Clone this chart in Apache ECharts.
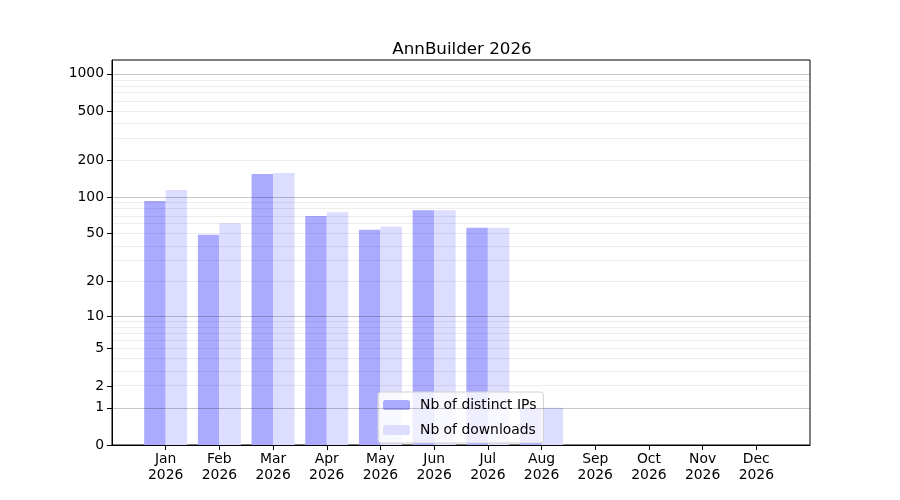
<!DOCTYPE html>
<html>
<head>
<meta charset="utf-8">
<script src="https://cdn.jsdelivr.net/npm/echarts@6/dist/echarts.min.js"></script>
<style>
  html, body { margin: 0; padding: 0; background: #fff; }
  #chart { width: 900px; height: 500px; }
</style>
</head>
<body>
<div id="chart"></div>
<script>
// chart data
const months = ['Jan', 'Feb', 'Mar', 'Apr', 'May', 'Jun', 'Jul', 'Aug', 'Sep', 'Oct', 'Nov', 'Dec'];
const year = '2026';
const distinctIPs = [93, 49, 154, 70, 54, 78, 56, 1, 0, 0, 0, 0];
const downloads = [114, 61, 157, 75, 57, 78, 56, 1, 0, 0, 0, 0];
const yTicks = [0, 1, 2, 5, 10, 20, 50, 100, 200, 500, 1000];
const majorGrid = [1, 10, 100, 1000];
const minorGrid = [2, 3, 4, 5, 6, 7, 8, 9, 20, 30, 40, 50, 60, 70, 80, 90, 200, 300, 400, 500, 600, 700, 800, 900];

// y axis is log10(1 + value)
const tr = v => Math.log10(1 + v);
const font = 'DejaVu Sans';

const chart = echarts.init(document.getElementById('chart'), null, { renderer: 'canvas' });

const tickPos = yTicks.map(tr);
const labelFor = {};
yTicks.forEach(v => { labelFor[tr(v).toFixed(6)] = String(v); });
const monthPos = months.map((m, i) => i);

chart.setOption({
  animation: false,
  title: {
    text: 'AnnBuilder ' + year,
    left: 457,
    top: 36,
    textAlign: 'center',
    textStyle: { fontFamily: font, fontSize: 16.7, fontWeight: 'normal', color: '#000' }
  },
  legend: {
    orient: 'vertical',
    left: 378,
    top: 392,
    padding: [6, 7, 6, 5],
    itemWidth: 27,
    itemHeight: 10,
    itemGap: 11,
    backgroundColor: 'rgba(255,255,255,0.8)',
    borderColor: '#d0d0d0',
    borderWidth: 1,
    borderRadius: 3,
    textStyle: { fontFamily: font, fontSize: 13.9, color: '#000', padding: [0, 0, 0, 5] },
    data: ['Nb of distinct IPs', 'Nb of downloads']
  },
  grid: {
    left: 112, right: 90, top: 60, bottom: 55,
    show: true, borderColor: '#000', borderWidth: 1, backgroundColor: 'transparent'
  },
  xAxis: {
    type: 'value',
    min: -1,
    max: 12,
    axisLine: { show: true, onZero: false, lineStyle: { color: '#000' } },
    axisTick: {
      show: true, length: 5, inside: false,
      customValues: monthPos,
      lineStyle: { color: '#000', width: 1 }
    },
    axisLabel: {
      customValues: monthPos,
      formatter: v => months[Math.round(v)] + '\n' + year,
      fontFamily: font, fontSize: 13.9, color: '#000', lineHeight: 16, margin: 6
    },
    splitLine: { show: false }
  },
  yAxis: {
    type: 'value',
    min: 0,
    max: 3.112,
    axisLine: { show: true, onZero: false, lineStyle: { color: '#000' } },
    axisTick: {
      show: true, length: 5, inside: false,
      customValues: tickPos,
      lineStyle: { color: '#000', width: 1 }
    },
    axisLabel: {
      customValues: tickPos,
      formatter: v => labelFor[Number(v).toFixed(6)] || '',
      fontFamily: font, fontSize: 13.9, color: '#000', margin: 8
    },
    splitLine: { show: false }
  },
  series: [
    {
      name: 'Nb of distinct IPs',
      type: 'bar',
      barWidth: 21.5,
      barGap: '0%',
      itemStyle: { color: '#aaaaff' },
      data: distinctIPs.map((v, i) => [i, tr(v)]),
      z: 2
    },
    {
      name: 'Nb of downloads',
      type: 'bar',
      barWidth: 21.5,
      barGap: '0%',
      itemStyle: { color: '#ddddff' },
      data: downloads.map((v, i) => [i, tr(v)]),
      z: 2
    },
    {
      // grid lines, drawn over the bars like in the original
      type: 'line',
      data: [],
      silent: true,
      z: 3,
      markLine: {
        silent: true,
        symbol: 'none',
        label: { show: false },
        animation: false,
        data: minorGrid.map(v => ({ yAxis: tr(v), lineStyle: { color: 'rgba(0,0,0,0.07)', width: 1, type: 'solid' } }))
          .concat(majorGrid.map(v => ({ yAxis: tr(v), lineStyle: { color: 'rgba(0,0,0,0.22)', width: 1, type: 'solid' } })))
      }
    }
  ]
});
</script>
</body>
</html>
